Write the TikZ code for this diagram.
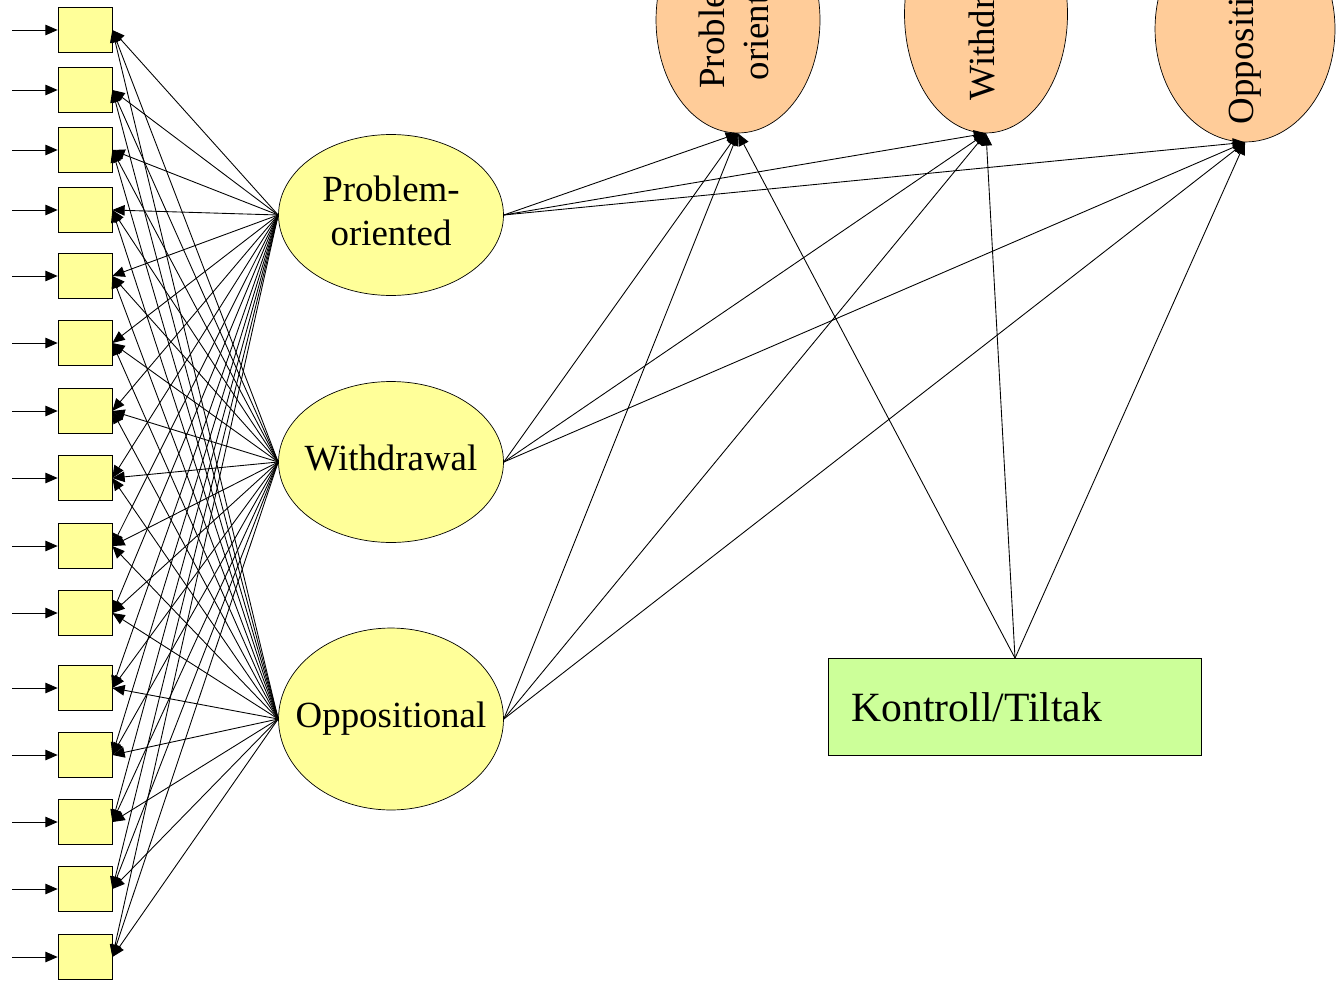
\documentclass[tikz,border=0pt]{standalone}
\usepackage{fontspec}
\setmainfont{Liberation Serif}
\usetikzlibrary{shapes.geometric,arrows.meta}
\definecolor{itemyellow}{HTML}{FFFF99}
\definecolor{outorange}{HTML}{FFCC99}
\definecolor{ctlgreen}{HTML}{CCFF99}

\begin{document}
\begin{tikzpicture}[x=0.02cm,y=-0.02cm,
                item node/.style={draw,fill=itemyellow,minimum width=1.08cm,minimum height=0.9cm,inner sep=0pt},
                factor node/.style={ellipse,draw,fill=itemyellow,minimum width=4.5cm,minimum height=3.22cm,inner sep=0pt,font=\fontsize{21}{25}\selectfont},
                outcome node/.style={ellipse,draw,fill=outorange,inner sep=0pt,font=\fontsize{21}{25}\selectfont},
                arr/.style={-{Triangle[length=7pt,width=6pt]},line width=0.5pt},
                ]
                \def\mid#1{\makebox[0pt]{\begin{tabular}{@{}c@{}}#1\end{tabular}}}
                \useasboundingbox (0,0) rectangle (1337,983);
                \clip (0,0) rectangle (1337,983);

                \foreach \y [count=\i] in {30,90,150,210,276,343,411,478,546,613,688,755,822,889,957} {
                    \node[item node] (b\i) at (85,\y) {};
                    \coordinate (in\i) at (12,\y);
                    \draw[arr] (in\i) -- (b\i);
                }

                \node[factor node] (po) at (391,215) {\mid{Problem-\\oriented}};
                \node[factor node] (wd) at (391,462) {\mid{Withdrawal}};
                \node[factor node, minimum height=3.64cm] (op) at (391,719) {\mid{Oppositional}};

                \node[outcome node, minimum width=3.28cm, minimum height=4.52cm] (opo) at (738,20)
                    {\rotatebox{90}{\mid{Problem-\\oriented}}};
                \node[outcome node, minimum width=3.26cm, minimum height=4.76cm] (owd) at (986,14)
                    {\rotatebox{90}{\mid{Withdrawal}}};
                \node[outcome node, minimum width=3.6cm, minimum height=4.52cm] (oop) at (1245,29)
                    {\rotatebox{90}{\mid{Oppositional}}};

                \node[draw, fill=ctlgreen, minimum width=7.46cm, minimum height=1.94cm, text width=6.54cm,
                      inner xsep=0.46cm, align=left, font=\fontsize{23.7}{28}\selectfont] (ctl) at (1015,707) {Kontroll/Tiltak};

                \foreach \f in {po,wd,op} {
                    \foreach \i in {1,...,15} {
                        \draw[arr] (\f.west) -- (b\i.east);
                    }
                    \foreach \o in {opo,owd,oop} {
                        \draw[arr] (\f.east) -- (\o.south);
                    }
                }
                \foreach \o in {opo,owd,oop} {
                    \draw[arr] (ctl.north) -- (\o.south);
                }
            \end{tikzpicture}
\end{document}
